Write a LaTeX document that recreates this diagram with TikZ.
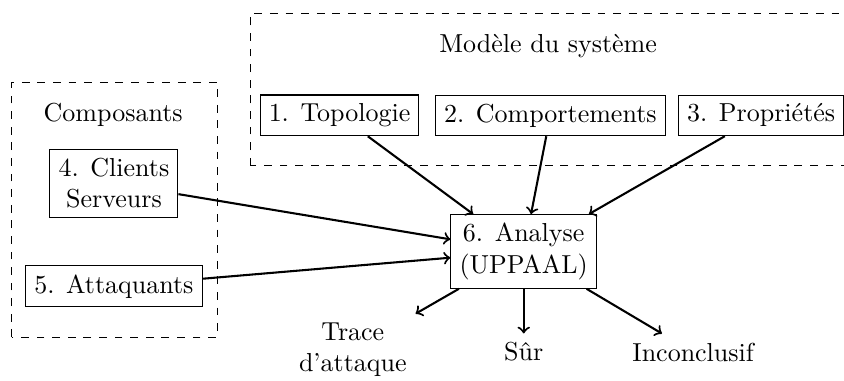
\documentclass[tikz,border=0pt]{standalone}
\begin{document}
\begin{tikzpicture}[box/.style={draw},grp/.style={draw,dashed},flow/.style={->,thick}]
\useasboundingbox (0,0) rectangle (11.41,5.15);
% groupes
\draw[grp] (3.39,2.91) rectangle (11.70,4.97);
\draw[grp] (0.16,0.59) rectangle (2.94,4.04);
\node (modele) at (7.41,4.52) {Modèle du système};
\node (compo) at (1.53,3.60) {Composants};
% entrees
\node[box] (topo) at (4.59,3.59) {1. Topologie};
\node[box] (comp) at (7.44,3.59) {2. Comportements};
\node[box] (prop) at (10.29,3.59) {3. Propriétés};
\node[box,align=center] (clients) at (1.54,2.67) {4. Clients\\Serveurs};
\node[box] (att) at (1.54,1.28) {5. Attaquants};
% analyse et resultats
\node[box,align=center] (ana) at (7.08,1.75) {6. Analyse\\(UPPAAL)};
\node[align=center] (trace) at (4.77,0.42) {Trace\\d'attaque};
\node (sur) at (7.08,0.39) {Sûr};
\node (inc) at (9.37,0.39) {Inconclusif};
\draw[flow] (topo) -- (ana); \draw[flow] (comp) -- (ana); \draw[flow] (prop) -- (ana);
\draw[flow] (clients) -- (ana); \draw[flow] (att) -- (ana);
\draw[flow] (ana) -- (trace); \draw[flow] (ana) -- (sur); \draw[flow] (ana) -- (inc);
\end{tikzpicture}
\end{document}
